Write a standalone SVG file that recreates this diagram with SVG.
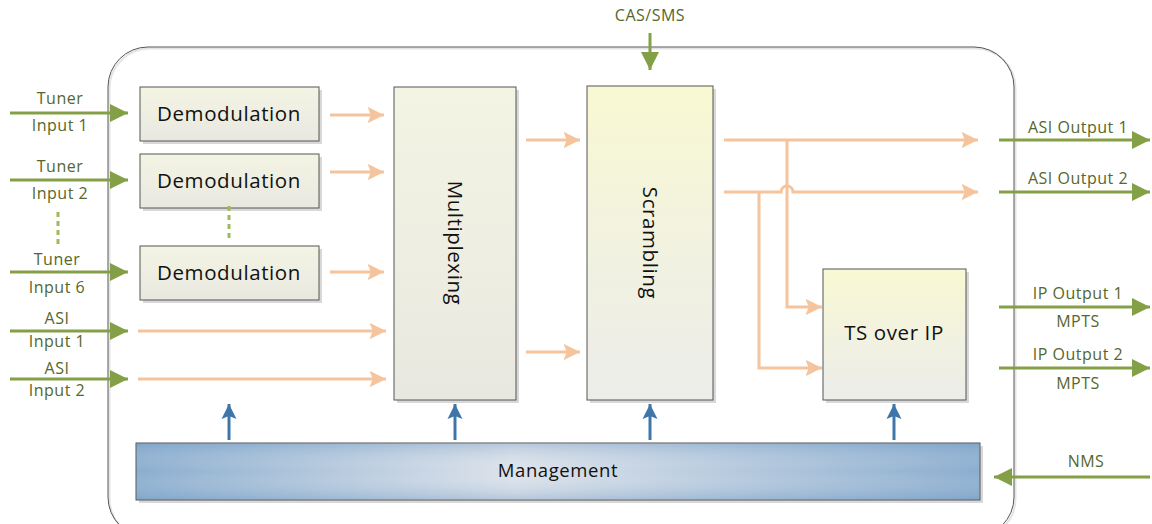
<svg xmlns="http://www.w3.org/2000/svg" width="1152" height="524" viewBox="0 0 1152 524">
<style>
.t{font-family:"Open Sans","Noto Sans",sans-serif;fill:#111;text-anchor:middle;letter-spacing:0.6px}
.g{font-family:"Open Sans","Noto Sans",sans-serif;fill:#55672c;font-size:16px;text-anchor:middle;letter-spacing:0.5px}
.box{stroke:#555;stroke-width:1}
.sh{fill:#d8d8d8}
.ga{stroke:#84a047;stroke-width:3;fill:none}
.oa{stroke:#f5c49c;stroke-width:3;fill:none}
.ba{stroke:#3f76aa;stroke-width:3;fill:none}
</style>
<defs>
<linearGradient id="gd" x1="0" y1="0" x2="0" y2="1"><stop offset="0" stop-color="#f4f4e4"/><stop offset="1" stop-color="#e8e8e0"/></linearGradient>
<linearGradient id="gy" x1="0" y1="0" x2="0" y2="1"><stop offset="0" stop-color="#f8f8d2"/><stop offset="0.5" stop-color="#f2f2e0"/><stop offset="1" stop-color="#ececea"/></linearGradient>
<linearGradient id="gm" x1="0" y1="0" x2="1" y2="0"><stop offset="0" stop-color="#8aadcf"/><stop offset="0.45" stop-color="#dce2ea"/><stop offset="1" stop-color="#8aadcf"/></linearGradient>
<linearGradient id="gmv" x1="0" y1="0" x2="0" y2="1"><stop offset="0" stop-color="#6f98c2" stop-opacity="0.35"/><stop offset="0.5" stop-color="#ffffff" stop-opacity="0"/><stop offset="1" stop-color="#6f98c2" stop-opacity="0.35"/></linearGradient>
<marker id="mg" viewBox="0 0 10 10" refX="10" refY="5" markerWidth="6" markerHeight="6" markerUnits="strokeWidth" orient="auto"><path d="M0,0L10,5L0,10z" fill="#84a047"/></marker>
<marker id="mo" viewBox="0 0 10 10" refX="10" refY="5" markerWidth="5.5" markerHeight="5.5" markerUnits="strokeWidth" orient="auto"><path d="M0,0L10,5L0,10L2,5z" fill="#f5c49c"/></marker>
<marker id="mb" viewBox="0 0 10 10" refX="10" refY="5" markerWidth="5" markerHeight="5.5" markerUnits="strokeWidth" orient="auto"><path d="M0,0L10,5L0,10L2,5z" fill="#3f76aa"/></marker>
</defs>
<rect width="1152" height="524" fill="#fff"/>
<g id="frame">
<rect x="109.5" y="48.5" width="906" height="490" rx="40" fill="none" stroke="#e4e4e4" stroke-width="2"/>
<rect x="108" y="47" width="906" height="490" rx="40" fill="none" stroke="#555" stroke-width="1"/>
</g>
<g id="demod1"><rect class="sh" x="143" y="90" width="179" height="54"/><rect class="box" x="140" y="87" width="179" height="54" fill="url(#gd)"/><text class="t" x="229" y="121" font-size="20.5">Demodulation</text></g>
<g id="demod2"><rect class="sh" x="143" y="157" width="179" height="54"/><rect class="box" x="140" y="154" width="179" height="54" fill="url(#gd)"/><text class="t" x="229" y="188" font-size="20.5">Demodulation</text></g>
<g id="demod6"><rect class="sh" x="143" y="249" width="179" height="54"/><rect class="box" x="140" y="246" width="179" height="54" fill="url(#gd)"/><text class="t" x="229" y="280" font-size="20.5">Demodulation</text></g>
<g id="mux"><rect class="sh" x="397" y="90" width="122" height="313"/><rect class="box" x="394" y="87" width="122" height="313" fill="url(#gd)"/><text class="t" font-size="20.5" transform="translate(448,243) rotate(90)">Multiplexing</text></g>
<g id="scr"><rect class="sh" x="590" y="89" width="126" height="314"/><rect class="box" x="587" y="86" width="126" height="314" fill="url(#gy)"/><text class="t" font-size="20.5" transform="translate(643,243) rotate(90)">Scrambling</text></g>
<g id="tsip"><rect class="sh" x="826" y="272" width="143" height="131"/><rect class="box" x="823" y="269" width="143" height="131" fill="url(#gy)"/><text class="t" x="894" y="340" font-size="20.5">TS over IP</text></g>
<g id="mgmt"><rect class="sh" x="139" y="446" width="844" height="57"/><rect class="box" x="136" y="443" width="844" height="57" fill="url(#gm)"/><rect x="136.5" y="443.5" width="843" height="56" fill="url(#gmv)"/><text class="t" x="558" y="477" font-size="18.5">Management</text></g>
<g id="labels">
<text class="g" x="60" y="104">Tuner</text><text class="g" x="60" y="131">Input 1</text>
<text class="g" x="60" y="172">Tuner</text><text class="g" x="60" y="199">Input 2</text>
<text class="g" x="57" y="265">Tuner</text><text class="g" x="57" y="293">Input 6</text>
<text class="g" x="57" y="324">ASI</text><text class="g" x="57" y="347">Input 1</text>
<text class="g" x="57" y="374">ASI</text><text class="g" x="57" y="396">Input 2</text>
<text class="g" x="650" y="21">CAS/SMS</text>
<text class="g" x="1078" y="133">ASI Output 1</text>
<text class="g" x="1078" y="184">ASI Output 2</text>
<text class="g" x="1078" y="299">IP Output 1</text><text class="g" x="1078" y="327">MPTS</text>
<text class="g" x="1078" y="360">IP Output 2</text><text class="g" x="1078" y="389">MPTS</text>
<text class="g" x="1086" y="467">NMS</text>
</g>
<g id="connectors">
<path class="ga" d="M10,113H128" marker-end="url(#mg)"/>
<path class="ga" d="M10,180H128" marker-end="url(#mg)"/>
<path class="ga" d="M10,272H128" marker-end="url(#mg)"/>
<path class="ga" d="M10,331H128" marker-end="url(#mg)"/>
<path class="ga" d="M10,379H128" marker-end="url(#mg)"/>
<path d="M58,212V244M229,206V238" stroke="#9cbb5a" stroke-width="3" stroke-dasharray="5,4" fill="none"/>
<path class="ga" d="M650,33V70" marker-end="url(#mg)"/>
<path class="ga" d="M999,140H1150" marker-end="url(#mg)"/>
<path class="ga" d="M999,192H1150" marker-end="url(#mg)"/>
<path class="ga" d="M999,307H1150" marker-end="url(#mg)"/>
<path class="ga" d="M999,368H1150" marker-end="url(#mg)"/>
<path class="ga" d="M1150,477H994" marker-end="url(#mg)"/>
<path class="oa" d="M330,115H384" marker-end="url(#mo)"/>
<path class="oa" d="M330,172H384" marker-end="url(#mo)"/>
<path class="oa" d="M330,272H384" marker-end="url(#mo)"/>
<path class="oa" d="M138,331H386" marker-end="url(#mo)"/>
<path class="oa" d="M138,379H386" marker-end="url(#mo)"/>
<path class="oa" d="M526,140H580" marker-end="url(#mo)"/>
<path class="oa" d="M526,352H580" marker-end="url(#mo)"/>
<path class="oa" d="M724,140H978" marker-end="url(#mo)"/>
<path class="oa" d="M724,192H781A6,6 0 0 1 793,192H978" marker-end="url(#mo)"/>
<path class="oa" d="M787,140V307H822" marker-end="url(#mo)"/>
<path class="oa" d="M759,192V368H822" marker-end="url(#mo)"/>
<path class="ba" d="M229,440V404" marker-end="url(#mb)"/>
<path class="ba" d="M455,440V404" marker-end="url(#mb)"/>
<path class="ba" d="M650,440V404" marker-end="url(#mb)"/>
<path class="ba" d="M894,440V404" marker-end="url(#mb)"/>
</g>
</svg>
